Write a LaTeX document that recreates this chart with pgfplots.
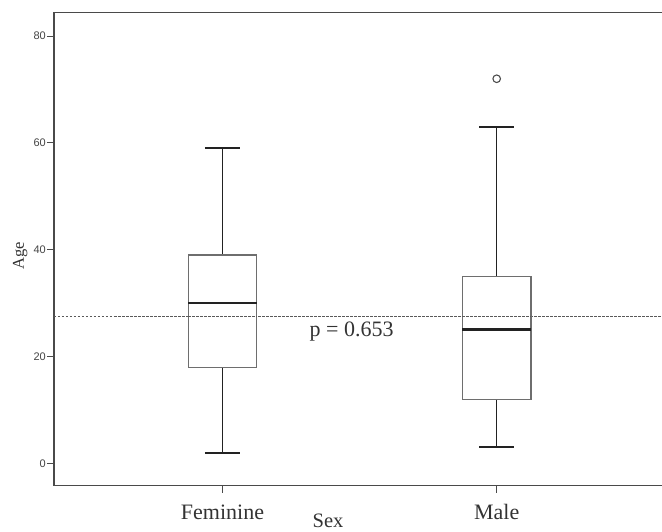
\documentclass[border=0pt]{standalone}
\usepackage{fontspec}
\setmainfont{Liberation Serif}
\newfontfamily\arialf{Liberation Sans}
\usepackage{pgfplots}
\pgfplotsset{compat=1.18}
\definecolor{framec}{HTML}{4A4A4A}
\definecolor{boxc}{HTML}{6E6E6E}
\definecolor{tickc}{HTML}{444444}
\definecolor{linec}{HTML}{222222}
\begin{document}
\begin{tikzpicture}
\begin{axis}[
  scale only axis, width=609pt, height=473pt,
  xmin=0.3855, xmax=2.6065, ymin=-4.19, ymax=84.37,
  axis line style={framec, line width=1.4pt},
  xtick={1,2}, xticklabels={Feminine,Male},
  ytick={0,20,40,60,80},
  xtick pos=left, ytick pos=left,
  tick align=outside, major tick length=7pt,
  every tick/.style={framec, line width=1pt},
  /pgf/number format/assume math mode=true,
  yticklabel style={font=\arialf\fontsize{11}{12}\selectfont, text=tickc, inner xsep=1pt},
  xticklabel style={font=\fontsize{22}{24}\selectfont, text=black!80, anchor=base, yshift=-27pt},
  xlabel={Sex},
  xlabel style={at={(rel axis cs:0.450,0)}, anchor=base, inner sep=0pt, yshift=-42.3pt, font=\fontsize{20.5}{22}\selectfont, text=black!80},
  ylabel={Age},
  ylabel style={at={(rel axis cs:-0.0493,0.4856)}, anchor=base, font=\fontsize{16.5}{19}\selectfont, text=black!80},
  clip=false,
]
\coordinate (axbl) at (rel axis cs:0,0);
% reference line
\addplot[dash pattern=on 2.5pt off 1.5pt, color=black!65, line width=1pt] coordinates {(0.3855,27.4) (2.6065,27.4)};
% Feminine: min 2, Q1 18, median 30, Q3 39, max 59
\addplot[draw=linec, line width=1.1pt] coordinates {(1,2) (1,18)};
\addplot[draw=linec, line width=1.1pt] coordinates {(1,39) (1,59)};
\addplot[draw=linec, line width=1.8pt] coordinates {(0.936,2) (1.064,2)};
\addplot[draw=linec, line width=1.8pt] coordinates {(0.936,59) (1.064,59)};
\addplot[draw=boxc, line width=1.3pt, fill=white] coordinates {(0.875,18) (1.125,18) (1.125,39) (0.875,39) (0.875,18)} -- cycle;
\addplot[draw=linec, line width=2.6pt] coordinates {(0.875,30) (1.125,30)};
% Male: min 3, Q1 12, median 25, Q3 35, max 63, outlier 72
\addplot[draw=linec, line width=1.1pt] coordinates {(2,3) (2,12)};
\addplot[draw=linec, line width=1.1pt] coordinates {(2,35) (2,63)};
\addplot[draw=linec, line width=1.8pt] coordinates {(1.936,3) (2.064,3)};
\addplot[draw=linec, line width=1.8pt] coordinates {(1.936,63) (2.064,63)};
\addplot[draw=boxc, line width=1.3pt, fill=white] coordinates {(1.875,12) (2.125,12) (2.125,35) (1.875,35) (1.875,12)} -- cycle;
\addplot[draw=linec, line width=2.6pt] coordinates {(1.875,25) (2.125,25)};
\addplot[only marks, mark=o, mark size=3.8pt, mark options={draw=black!70, line width=1.1pt}] coordinates {(2,72)};
% dashed line visible through boxes
\addplot[dash pattern=on 2.5pt off 1.5pt, color=black!65, line width=1pt] coordinates {(0.875,27.4) (1.125,27.4)};
\addplot[dash pattern=on 2.5pt off 1.5pt, color=black!65, line width=1pt] coordinates {(1.875,27.4) (2.125,27.4)};
\node[anchor=base west, font=\fontsize{22}{24}\selectfont, text=black!80] at (axis cs:1.305,23.8) {p = 0.653};
\end{axis}
\pgfresetboundingbox
\path (axbl) ++(-54pt,-46.3pt) rectangle ++(662pt,532pt);
\end{tikzpicture}
\end{document}
